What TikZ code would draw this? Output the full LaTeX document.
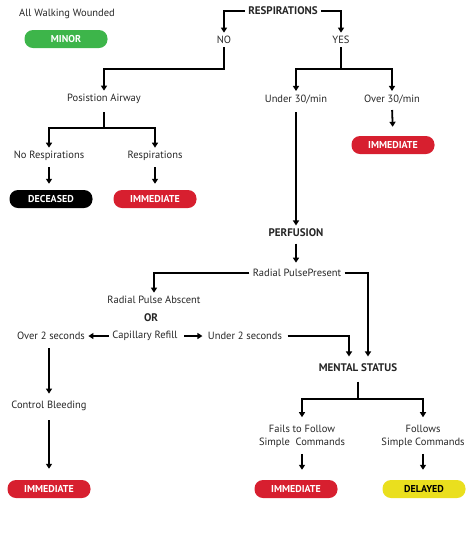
\documentclass[tikz,border=0pt]{standalone}
\usepackage{fontspec}
\setmainfont{PT Sans}
\usetikzlibrary{arrows.meta, positioning}

\definecolor{minorgreen}{HTML}{3DB54A}
\definecolor{immred}{HTML}{D71F2F}
\definecolor{delayyellow}{HTML}{EADF1E}

\begin{document}
\begin{tikzpicture}[
    x=1pt, y=-1pt,
    >={Triangle[width=6pt,length=5pt]},
    every node/.style={font=\fontsize{10.5}{13}\selectfont, align=center, text=black!85},
    head/.style={font=\fontsize{11}{13}\selectfont\bfseries},
    tag/.style={rounded corners=8.5pt, minimum width=83pt, minimum height=18pt, inner sep=0pt,
                text=white, font=\fontsize{10}{13}\selectfont\bfseries},
    line/.style={line width=1.8pt},
    arr/.style={->, line width=1.8pt}
]
\useasboundingbox (0,0) rectangle (474,550);

% Nodes
\node[head] (resp) at (283,11) {RESPIRATIONS};
\node (walking) at (67,14) {All Walking Wounded};
\node[tag, fill=minorgreen] (minor) at (66,39) {MINOR};
\node (no) at (224,40) {NO};
\node (yes) at (341,40) {YES};

\node (airway) at (104,99) {Posistion Airway};
\node (under30) at (296,99) {Under 30/min};
\node (over30) at (392,99) {Over 30/min};
\node[tag, fill=immred] (immover) at (393,145) {IMMEDIATE};

\node (norsp) at (49,156) {No Respirations};
\node (rsp) at (155,156) {Respirations};
\node[tag, fill=black] (deceased) at (51,199) {DECEASED};
\node[tag, fill=immred] (immrsp) at (155,199) {IMMEDIATE};

\node[head] (perf) at (296,233) {PERFUSION};
\node (radial) at (297,273) {Radial PulsePresent};
\node (absent) at (154,300) {Radial Pulse Abscent};
\node[head] (or) at (151,318) {OR};
\node (capref) at (145,336) {Capillary Refill};
\node (over2) at (51,336) {Over 2 seconds};
\node (under2) at (245,336) {Under 2 seconds};

\node[head] (mental) at (358,368) {MENTAL STATUS};
\node (bleed) at (49,406) {Control Bleeding};
\node (fails) at (302,436) {Fails to Follow\\Simple~~Commands};
\node (follows) at (423,436) {Follows\\Simple Commands};

\node[tag, fill=immred] (immbleed) at (49,489) {IMMEDIATE};
\node[tag, fill=immred] (immfails) at (296,489) {IMMEDIATE};
\node[tag, fill=delayyellow, text=black] (delayed) at (424,489) {DELAYED};

% Arrows
\draw[arr] (resp.west) -| (no.north);
\draw[arr] (resp.east) -| (yes.north);

\draw[arr] (no.south) -- (224,69) -| (airway.north);
\draw[line] (yes.south) -- (341,69) coordinate (yessplit);
\draw[arr] (yessplit) -| (under30.north);
\draw[arr] (yessplit) -| (over30.north);
\draw[arr, shorten <=3pt, shorten >=9pt] (over30.south) -- (immover.north);

\draw[line, shorten <=5pt] (airway.south) -- (104,128) coordinate (awsplit);
\draw[arr] (awsplit) -| (norsp.north);
\draw[arr] (awsplit) -| (rsp.north);
\draw[arr, shorten <=3pt, shorten >=6pt] (norsp.south) -- (norsp.south |- deceased.north);
\draw[arr, shorten <=3pt, shorten >=6pt] (rsp.south) -- (immrsp.north);

\draw[arr, shorten <=5pt] (under30.south) -- (perf.north);
\draw[arr, shorten <=3pt, shorten >=3pt] (perf.south) -- (radial.north -| perf.south);
\draw[arr] (radial.west) -| (absent.north);
\draw[arr, shorten >=4pt] (radial.east) -| ([xshift=10pt]mental.north);

\draw[arr] (capref.west) -- (over2.east);
\draw[arr, shorten <=3pt, shorten >=2pt] (capref.east) -- (under2.west);
\draw[arr, shorten <=2pt, shorten >=4pt] (under2.east) -| ([xshift=-9pt]mental.north);

\draw[arr, shorten <=5pt, shorten >=4pt] (over2.south -| bleed.north) -- (bleed.north);
\draw[arr, shorten <=6pt, shorten >=11pt] (bleed.south) -- (immbleed.north);

\draw[line, shorten <=6pt] (mental.south) -- (358,399) coordinate (msplit);
\draw[arr, shorten >=4pt] (msplit) -| (fails.north);
\draw[arr, shorten >=4pt] (msplit) -| (follows.north);
\draw[arr, shorten <=3pt, shorten >=10pt] (fails.south) -- (fails.south |- immfails.north);
\draw[arr, shorten <=3pt, shorten >=10pt] (follows.south) -- (follows.south |- delayed.north);

\end{tikzpicture}
\end{document}
